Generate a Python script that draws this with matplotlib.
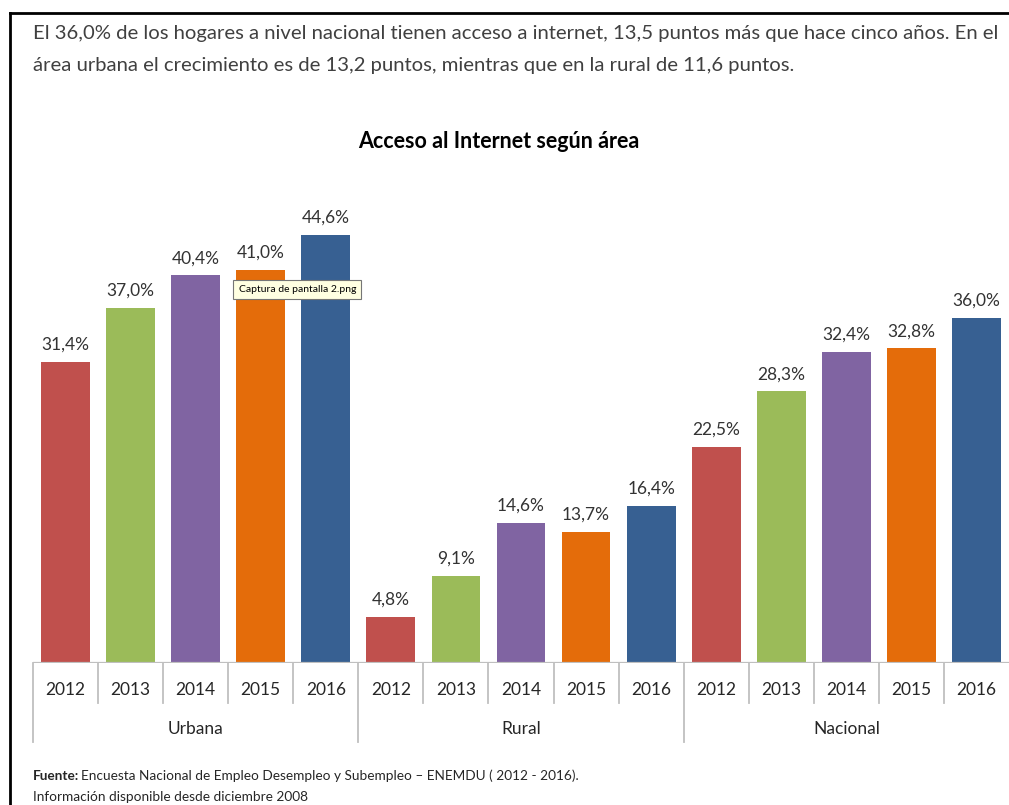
import matplotlib
matplotlib.use("Agg")
from matplotlib import pyplot
from matplotlib.transforms import blended_transform_factory
from matplotlib.lines import Line2D

pyplot.rcParams["font.family"] = ["Lato", "DejaVu Sans"]

# data
areas = ["Urbana", "Rural", "Nacional"]
years = ["2012", "2013", "2014", "2015", "2016"]
urbana = [31.4, 37.0, 40.4, 41.0, 44.6]
rural = [4.8, 9.1, 14.6, 13.7, 16.4]
nacional = [22.5, 28.3, 32.4, 32.8, 36.0]
year_colors = ["#C0504D", "#9BBB59", "#8064A2", "#E46C0A", "#376092"]

header = ["El 36,0% de los hogares a nivel nacional tienen acceso a internet, 13,5 puntos más que hace cinco años. En el",
          "área urbana el crecimiento es de 13,2 puntos, mientras que en la rural de 11,6 puntos."]
title = "Acceso al Internet según área"

W, H = 1009, 805
fig = pyplot.figure(figsize=(W / 100, H / 100), dpi=100)

# axis: baseline at y=663px, 15 slots from x=33 to x=1009
base_y = 663
px_per_pct = 9.596
ymax = 50
top_y = base_y - ymax * px_per_pct
ax = fig.add_axes([33 / W, (H - base_y) / H, (1009 - 33) / W, (base_y - top_y) / H])
ax.set_xlim(-0.5, 14.5)
ax.set_ylim(0, ymax)
for s in ax.spines.values():
    s.set_visible(False)
ax.set_xticks([])
ax.set_yticks([])

gray = "#BFBFBF"
ax.axhline(0, color=gray, lw=1.6, zorder=3)

trans = blended_transform_factory(ax.transData, ax.transAxes)
axis_h = base_y - top_y

def to_axes(py):
    return (base_y - py) / axis_h

pos = 0
for g, (area, vals) in enumerate(zip(areas, [urbana, rural, nacional])):
    for i, (yr, v) in enumerate(zip(years, vals)):
        ax.bar(pos, v, width=0.75, color=year_colors[i], zorder=2)
        ax.text(pos, v + 0.95, ("%.1f%%" % v).replace(".", ","), ha="center", va="bottom",
                fontsize=12.5, color="#333333")
        ax.text(pos, to_axes(690), yr, ha="center", va="center", fontsize=12.5,
                color="#262626", transform=trans)
        # tick separator on the left of each slot
        bottom = to_axes(742) if i == 0 else to_axes(703)
        ax.add_line(Line2D([pos - 0.5, pos - 0.5], [0, bottom], color=gray, lw=1.3,
                           transform=trans, clip_on=False))
        pos += 1
    ax.text(pos - 3, to_axes(729), area, ha="center", va="center", fontsize=12.5,
            color="#262626", transform=trans)

# tooltip from the screenshot
ax.text(2.66, 38.9, "Captura de pantalla 2.png", ha="left", va="center", fontsize=7.5,
        color="black", zorder=5,
        bbox=dict(boxstyle="square,pad=0.5", facecolor="#FFFFE1", edgecolor="#767676", lw=0.8))

# frame of the screenshot
fig.add_artist(Line2D([10 / W, 10 / W], [0, (H - 13) / H], color="black", lw=2))
fig.add_artist(Line2D([10 / W, 1], [(H - 13) / H, (H - 13) / H], color="black", lw=2))

for k, line in enumerate(header):
    fig.text(33 / W, 1 - (33 + 33 * k) / H, line, ha="left", va="center", fontsize=14.55,
             color="#404040")
fig.text(499 / W, 1 - 141 / H, title, ha="center", va="center", fontsize=15.5,
         fontweight="bold", color="black")

fig.text(33 / W, 1 - 776 / H, "Fuente:", ha="left", va="center", fontsize=9.8,
         fontweight="bold", color="#262626")
fig.text(81 / W, 1 - 776 / H,
         "Encuesta Nacional de Empleo Desempleo y Subempleo – ENEMDU ( 2012 - 2016).",
         ha="left", va="center", fontsize=9.8, color="#262626")
fig.text(33 / W, 1 - 797 / H, "Información disponible desde diciembre 2008",
         ha="left", va="center", fontsize=9.8, color="#262626")

fig.savefig("out.png", dpi=100)
